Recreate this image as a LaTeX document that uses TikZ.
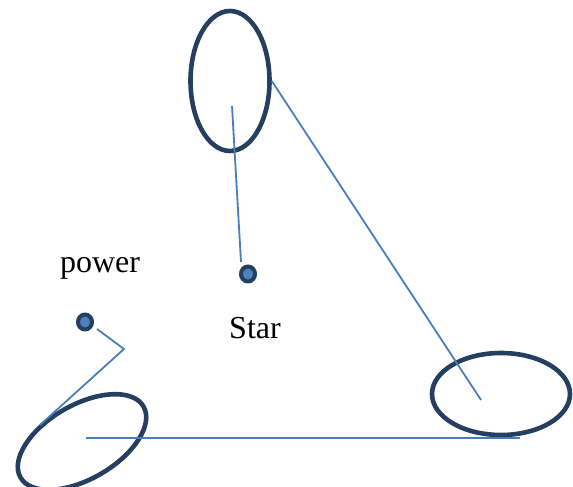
\documentclass[tikz,border=0pt]{standalone}
\usepackage{fontspec}
\setmainfont{Liberation Serif}
\usetikzlibrary{shapes.geometric}
\definecolor{ring}{HTML}{243F60}
\definecolor{link}{HTML}{4A7EBB}
\definecolor{dotfill}{HTML}{4F81BD}
\begin{document}
\begin{tikzpicture}[x=1pt,y=-1pt,
  bigell/.style={ellipse,draw=ring,line width=4.6pt,inner sep=0pt},
  dotnode/.style={ellipse,draw=ring,fill=dotfill,line width=4pt,inner sep=0pt,minimum width=14pt,minimum height=15pt},
  linkline/.style={draw=link,line width=1.8pt},
  lbl/.style={font=\fontsize{32}{38}\selectfont,anchor=base,inner sep=0pt}]
\useasboundingbox (0,0) rectangle (573,487);
\node[bigell,minimum width=79pt,minimum height=140pt] (topell) at (230,81) {};
\node[bigell,minimum width=138pt,minimum height=82pt] (rightell) at (501,394) {};
\node[bigell,minimum width=142pt,minimum height=74pt,rotate=30] (leftell) at (82,442) {};
\node[dotnode] (stardot) at (248,274) {};
\node[dotnode] (powerdot) at (85,322) {};
\node[lbl] (power) at (100,272) {power};
\node[lbl] (star) at (255,338) {Star};
\coordinate (c1) at (481,400);
\coordinate (c2) at (232,106);
\coordinate (c3) at (241,262);
\coordinate (c4) at (97,329);
\coordinate (c5) at (124,349);
\coordinate (c6) at (40,425);
\coordinate (c7) at (86,437.7);
\coordinate (c8) at (520,437.7);
\draw[linkline] (topell.east) -- (c1);
\draw[linkline] (c2) -- (c3);
\draw[linkline] (c4) -- (c5) -- (c6);
\draw[linkline] (c7) -- (c8);
\end{tikzpicture}
\end{document}
